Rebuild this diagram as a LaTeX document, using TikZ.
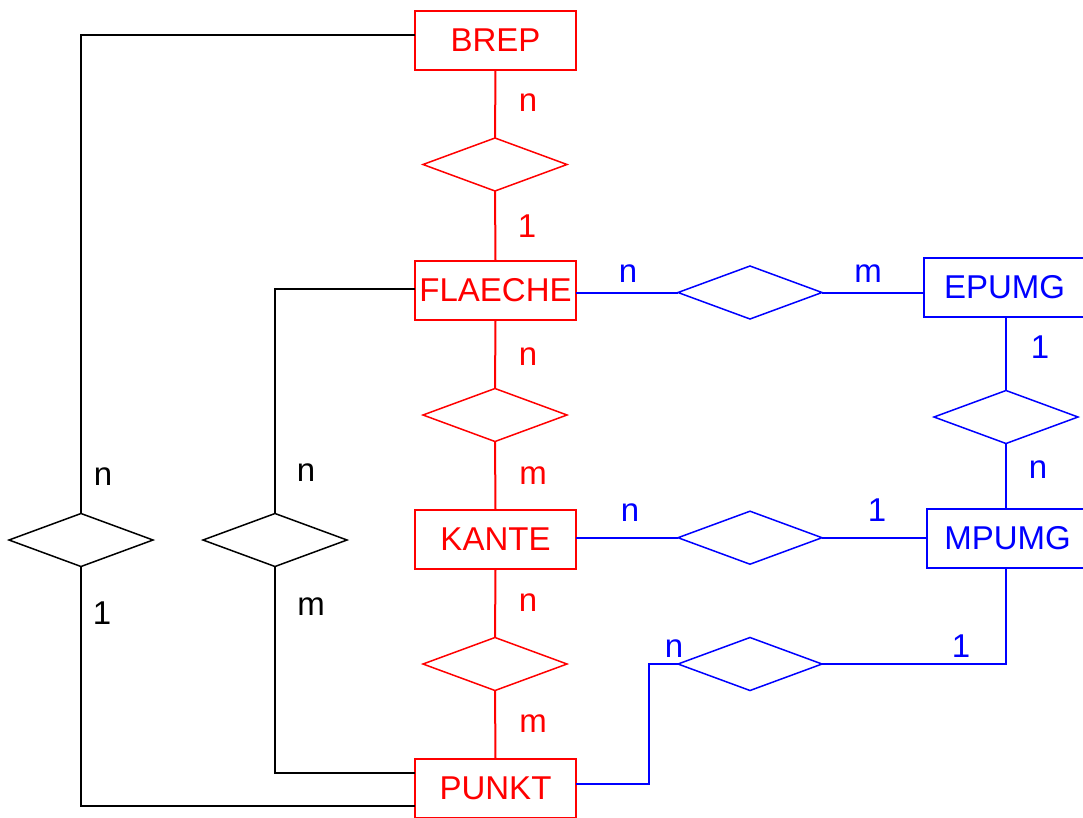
\documentclass[tikz,border=0pt]{standalone}
\usepackage{fontspec}
\setmainfont{Liberation Sans}
\usetikzlibrary{shapes.geometric}
\definecolor{er}{RGB}{255,0,0}
\definecolor{eb}{RGB}{0,0,255}
\begin{document}
\begin{tikzpicture}[x=1pt,y=-1pt,
  ent/.style={draw,rectangle,minimum width=161pt,minimum height=59pt,inner sep=0pt,outer sep=0pt,line width=2pt,font=\fontsize{33}{40}\selectfont},
  rel/.style={draw,diamond,minimum width=144pt,minimum height=53pt,inner sep=0pt,outer sep=0pt,line width=1.5pt},
  lbl/.style={inner sep=0pt,font=\fontsize{33}{40}\selectfont},
  conn/.style={line width=2pt}]
\useasboundingbox (0,0) rectangle (1083,817);
\clip (0,0) rectangle (1083,817);
% entities
\node[ent,er] (BREP) at (495.5,40) {BREP};
\node[ent,er] (FL) at (495.5,290.5) {FLAECHE};
\node[ent,er] (KA) at (495.5,539.5) {KANTE};
\node[ent,er] (PU) at (495.5,788.5) {PUNKT};
\node[ent,eb] (EP) at (1004.5,287) {EPUMG};
\node[ent,eb] (MP) at (1007.5,538.5) {MPUMG};
% relationships
\node[rel,er] (d1) at (495,164.5) {};
\node[rel,er] (d2) at (495,415) {};
\node[rel,er] (d3) at (495,664) {};
\node[rel,eb] (dFE) at (750,292.5) {};
\node[rel,eb] (dKM) at (750,537.7) {};
\node[rel,eb] (dPM) at (750,664) {};
\node[rel,eb] (dEM) at (1006,417) {};
\node[rel] (dL1) at (81,540) {};
\node[rel] (dL2) at (275,540) {};
% red connectors
\draw[conn,er] (BREP.south) -- (d1.north);
\draw[conn,er] (d1.south) -- (FL.north);
\draw[conn,er] (FL.south) -- (d2.north);
\draw[conn,er] (d2.south) -- (KA.north);
\draw[conn,er] (KA.south) -- (d3.north);
\draw[conn,er] (d3.south) -- (PU.north);
% blue connectors
\draw[conn,eb] (FL.east |- dFE.west) -- (dFE.west);
\draw[conn,eb] (dFE.east) -- (dFE.east -| EP.west);
\draw[conn,eb] (dEM.north) -- (dEM.north |- EP.south);
\draw[conn,eb] (dEM.south) -- (dEM.south |- MP.north);
\draw[conn,eb] (KA.east |- dKM.west) -- (dKM.west);
\draw[conn,eb] (dKM.east) -- (dKM.east -| MP.west);
\draw[conn,eb] ([yshift=4.5pt]PU.east) -- ++(73,0) |- (dPM.west);
\draw[conn,eb] (dPM.east) -| (dEM.south |- MP.south);
% black connectors
\draw[conn] ([yshift=5pt]BREP.west) -| (dL1.north);
\draw[conn] (dL1.south) |- ([yshift=-17.5pt]PU.west);
\draw[conn] ([yshift=1.5pt]FL.west) -| (dL2.north);
\draw[conn] (dL2.south) |- ([yshift=15.8pt]PU.west);
% labels
\node[lbl,er] (l1) at (528,103) {n};
\node[lbl,er] (l2) at (527,226) {1};
\node[lbl,er] (l3) at (528,357) {n};
\node[lbl,er] (l4) at (533,476) {m};
\node[lbl,er] (l5) at (528,603) {n};
\node[lbl,er] (l6) at (533,724) {m};
\node[lbl,eb] (l7) at (628,274) {n};
\node[lbl,eb] (l8) at (868,274) {m};
\node[lbl,eb] (l9) at (1040,347) {1};
\node[lbl,eb] (l10) at (1038,470) {n};
\node[lbl,eb] (l11) at (630,513) {n};
\node[lbl,eb] (l12) at (877,510) {1};
\node[lbl,eb] (l13) at (674,649) {n};
\node[lbl,eb] (l14) at (961,646) {1};
\node[lbl] (l15) at (103,477) {n};
\node[lbl] (l16) at (102,613) {1};
\node[lbl] (l17) at (306,473) {n};
\node[lbl] (l18) at (311,607) {m};
\end{tikzpicture}
\end{document}
